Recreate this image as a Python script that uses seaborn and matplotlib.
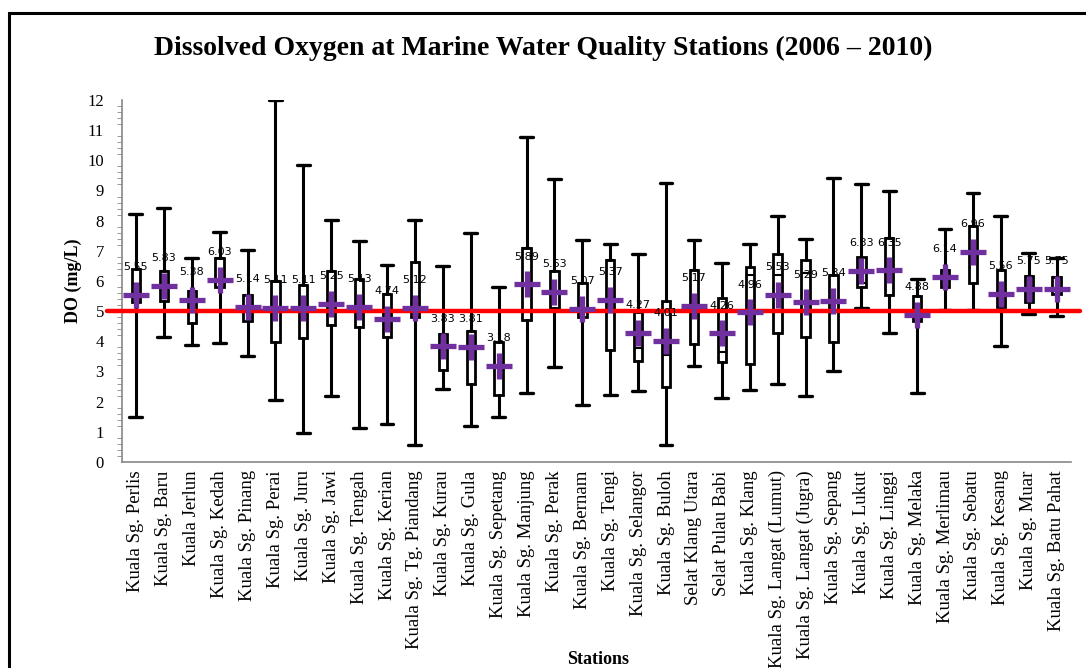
import numpy as np
import pandas as pd
import seaborn as sns
import matplotlib.pyplot as plt
from matplotlib.patches import Rectangle

# Station names and DO statistics (mg/L)
stations = ['Kuala Sg. Perlis', 'Kuala Sg. Baru', 'Kuala Jerlun', 'Kuala Sg. Kedah',
            'Kuala Sg. Pinang', 'Kuala Sg. Perai', 'Kuala Sg. Juru', 'Kuala Sg. Jawi',
            'Kuala Sg. Tengah', 'Kuala Sg. Kerian', 'Kuala Sg. Tg. Piandang', 'Kuala Sg. Kurau',
            'Kuala Sg. Gula', 'Kuala Sg. Sepetang', 'Kuala Sg. Manjung', 'Kuala Sg. Perak',
            'Kuala Sg. Bernam', 'Kuala Sg. Tengi', 'Kuala Sg. Selangor', 'Kuala Sg. Buloh',
            'Selat Klang Utara', 'Selat Pulau Babi', 'Kuala Sg. Klang', 'Kuala Sg. Langat (Lumut)',
            'Kuala Sg. Langat (Jugra)', 'Kuala Sg. Sepang', 'Kuala Sg. Lukut', 'Kuala Sg. Linggi',
            'Kuala Sg. Melaka', 'Kuala Sg. Merlimau', 'Kuala Sg. Sebatu', 'Kuala Sg. Kesang',
            'Kuala Sg. Muar', 'Kuala Sg. Batu Pahat']

do_max = [8.22, 8.42, 6.75, 7.63, 7.03, 12.0, 9.86, 8.02, 7.34, 6.54, 8.02, 6.5, 7.6, 5.8,
          10.78, 9.38, 7.35, 7.22, 6.88, 9.25, 7.35, 6.58, 7.22, 8.15, 7.38, 9.43, 9.2,
          8.97, 6.08, 7.72, 8.92, 8.15, 6.92, 6.75]
do_q3 = [6.39, 6.34, 5.68, 6.75, 5.53, 6.0, 5.87, 6.33, 6.05, 5.56, 6.63, 4.24, 4.35, 3.98,
         7.08, 6.33, 5.94, 6.71, 4.98, 5.34, 6.36, 5.42, 6.47, 6.88, 6.69, 6.19, 6.8,
         7.41, 5.51, 6.36, 7.82, 6.36, 6.18, 6.12]
do_median = [5.9, 6.34, 5.68, 6.75, 5.53, 6.0, 5.87, 6.33, 6.05, 5.56, 5.48, 4.24, 4.35, 3.98,
             7.08, 6.33, 5.94, 6.71, 3.79, 3.54, 6.36, 3.65, 6.19, 6.19, 6.25, 6.19, 5.94,
             7.41, 5.51, 6.36, 7.82, 6.36, 6.18, 6.12]
do_q1 = [5.31, 5.35, 4.6, 5.79, 4.68, 3.99, 4.1, 4.54, 4.46, 4.15, 4.79, 3.06, 2.58, 2.21,
         4.72, 5.09, 4.79, 3.71, 3.35, 2.47, 3.9, 3.32, 3.26, 4.26, 4.15, 3.98, 5.81,
         5.53, 4.68, 5.81, 5.94, 5.14, 5.3, 5.56]
do_min = [1.49, 4.13, 3.87, 3.95, 3.52, 2.05, 0.97, 2.18, 1.14, 1.27, 0.55, 2.42, 1.19, 1.49,
          2.29, 3.15, 1.88, 2.21, 2.35, 0.55, 3.19, 2.12, 2.38, 2.6, 2.18, 3.02, 5.1,
          4.26, 2.29, 5.05, 5.05, 3.86, 4.92, 4.83]
do_mean = [5.55, 5.83, 5.38, 6.03, 5.14, 5.11, 5.11, 5.25, 5.13, 4.74, 5.12, 3.83, 3.81, 3.18,
           5.89, 5.63, 5.07, 5.37, 4.27, 4.01, 5.17, 4.26, 4.96, 5.53, 5.29, 5.34, 6.33,
           6.35, 4.88, 6.14, 6.96, 5.56, 5.75, 5.75]

standard = 5.0

df = pd.DataFrame({'Station': stations, 'Mean': do_mean})
df['pos'] = np.arange(len(stations))

sns.set_style('white')
plt.rcParams['font.family'] = ['Liberation Serif', 'DejaVu Serif']
plt.rcParams['text.color'] = 'black'
plt.rcParams['axes.labelcolor'] = 'black'
plt.rcParams['xtick.labelcolor'] = 'black'
plt.rcParams['ytick.labelcolor'] = 'black'

fig = plt.figure(figsize=(10.86, 6.68), dpi=100)
ax = fig.add_axes([0.1123, 0.3084, 0.8735, 0.5419])

# Box-whisker stats (min / Q1 / median / Q3 / max)
stats = []
for i in range(len(stations)):
    stats.append({'whislo': do_min[i], 'q1': do_q1[i], 'med': do_median[i],
                  'q3': do_q3[i], 'whishi': do_max[i], 'label': stations[i]})
ax.bxp(stats, positions=df['pos'], widths=0.3, patch_artist=True, showfliers=False,
       capwidths=0.46,
       boxprops=dict(facecolor='white', edgecolor='black', linewidth=2),
       whiskerprops=dict(color='black', linewidth=2.2),
       capprops=dict(color='black', linewidth=2.4),
       medianprops=dict(color='black', linewidth=1.5))

# Standard line
ax.axhline(standard, xmin=-0.016, xmax=1.01, color='#ff0000', lw=3.2, clip_on=False, zorder=4)

# Mean markers
sns.scatterplot(data=df, x='pos', y='Mean', marker='+', s=360, color='#7030a0',
                linewidth=3.8, ax=ax, zorder=5, legend=False)

for p, m in zip(df['pos'], df['Mean']):
    ax.annotate(f'{m:.2f}', (p, m), xytext=(0, 20), textcoords='offset points',
                ha='center', va='center', fontsize=8, family='DejaVu Sans', zorder=6)

ax.set_xlim(-0.5, len(stations) - 0.5)
ax.set_ylim(0, 12)
ax.set_yticks(range(0, 13))
ax.set_yticks(np.arange(0, 12.01, 0.2), minor=True)
ax.set_xticks(df['pos'])
ax.set_xticklabels(stations, rotation=90, fontsize=13.5)
ax.set_xticks(np.arange(-0.5, len(stations), 1.0), minor=True)
ax.tick_params(axis='x', which='major', length=0, pad=6)
ax.tick_params(axis='x', which='minor', length=6, color='#888888', direction='out')
ax.tick_params(axis='y', which='major', length=7, color='#888888', direction='out', labelsize=12, pad=6)
ax.tick_params(axis='y', which='minor', length=3.5, color='#888888', direction='out')
ax.tick_params(axis='y', which='minor', left=True)

for side in ['top', 'right']:
    ax.spines[side].set_visible(False)
for side in ['left', 'bottom']:
    ax.spines[side].set_color('#888888')
    ax.spines[side].set_linewidth(1.2)

ax.set_xlabel('')
ax.set_ylabel('DO (mg/L)', fontsize=13, fontweight='bold', labelpad=4)
fig.text(0.551, 0.012, 'Stations', ha='center', va='center', fontsize=13, fontweight='bold')
fig.text(0.5, 0.928, 'Dissolved Oxygen at Marine Water Quality Stations (2006 \u2013 2010)',
         ha='center', va='center', fontsize=20, fontweight='bold')

# Outer frame of the chart
fig.patches.append(Rectangle((9 / 1086, -0.05), 1.2, 1 - 13 / 668 + 0.05,
                             transform=fig.transFigure, fill=False,
                             edgecolor='black', linewidth=2.2))

fig.savefig('out.png', dpi=100)
